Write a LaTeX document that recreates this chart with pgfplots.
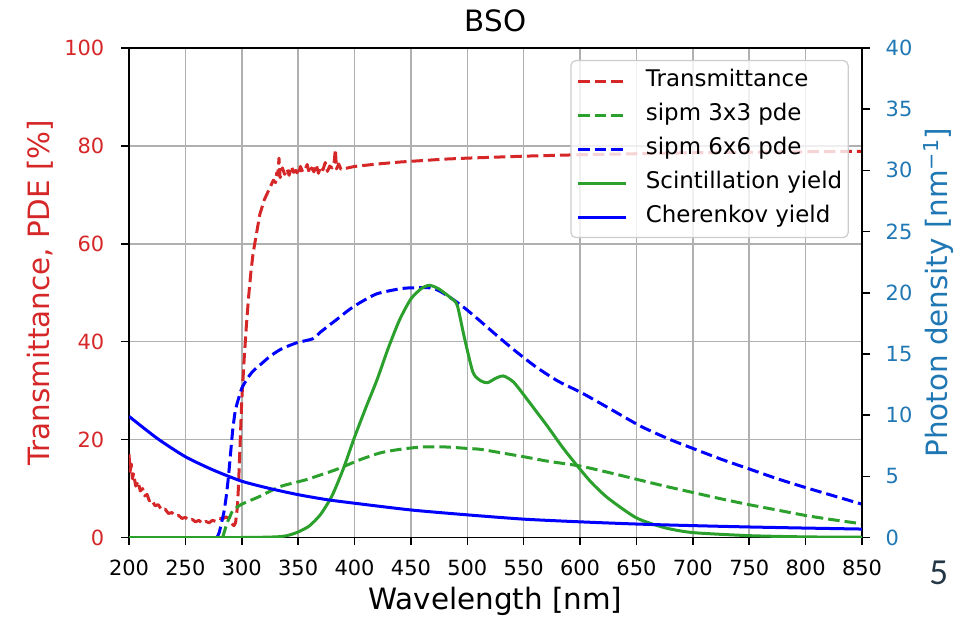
\documentclass[border=0pt]{standalone}
\usepackage{fontspec}
\setmainfont{DejaVu Sans}
\newfontfamily\slidefont{Lato}
\usepackage{pgfplots}
\pgfplotsset{compat=1.18}
\definecolor{tred}{RGB}{214,39,40}
\definecolor{tgreen}{RGB}{44,160,44}
\definecolor{tblue}{RGB}{31,119,180}
\definecolor{pblue}{RGB}{0,0,255}
\definecolor{gridc}{RGB}{176,176,176}
\definecolor{slate}{RGB}{35,55,70}
\newcommand\tickfont{\fontsize{21}{25}\selectfont}
\newcommand\labfont{\fontsize{29.5}{35}\selectfont}
\pgfplotsset{
 base/.style={
  scale only axis, width=733bp, height=489.5bp,
  xmin=200, xmax=850,
  at={(0,0)}, anchor=south west,
  tick align=outside, major tick length=7.5bp,
  every tick/.style={black, line width=1.6bp},
  axis line style={line width=1.6bp, black},
  /pgf/number format/assume math mode=true,
  ticklabel style={font=\tickfont},
 },
 dashedline/.style={line width=3bp, dash pattern=on 11.5bp off 5bp, line join=round},
 solidline/.style={line width=3bp, line join=round},
}
\begin{document}
\begin{tikzpicture}
\useasboundingbox (-129bp,-80.5bp) rectangle (844bp,537.5bp);
\begin{axis}[base, ymin=0, ymax=100,
  xtick={200,250,...,850}, ytick={0,20,...,100},
  xtick pos=bottom, ytick pos=left,
  grid=major, grid style={gridc, line width=1.6bp},
  title=BSO, title style={font=\labfont, at={(0.5,1)}, anchor=base, yshift=10.5bp},
  xlabel={Wavelength [nm]}, xlabel style={font=\labfont, at={([yshift=-71.5bp]axis description cs:0.5,0)}, anchor=base},
  ylabel={Transmittance, PDE [\%]}, ylabel style={font=\labfont, text=tred, at={([xshift=-79bp]axis description cs:0,0.5)}, anchor=base},
  yticklabel style={text=tred, anchor=east, inner sep=0pt, xshift=-17bp},
  xticklabel style={anchor=base, inner sep=0pt, yshift=-30bp},
]
\addplot[tred, dashedline] coordinates {
(200,17) (201,13.5) (202,15) (203,12) (204,13) (206,10.5) (208,11.5) (210,9.5) (212,10) (214,8.5) (216,8.8) (218,7.5) (220,7.8) (223,6.5) (226,6.7) (229,5.6) (232,5.8) (235,4.9) (238,5.1) (241,4.4) (244,4.5) (247,3.9) (250,4.1) (253,3.5) (256,3.7) (259,3.2) (262,3.5) (265,2.9) (268,3.3) (271,3.0) (274,3.5) (277,3.3) (280,3.9) (283,3.8) (286,4.2) (289,3.8) (291,2.9) (293,2.4) (294.5,3) (296,6) (297,10) (298,16) (299,22) (300,28) (302,36) (304,43) (306,49) (308,54) (310,58) (313,62) (316,66) (320,69) (325,71.5) (328,73) (330,72.5) (331,74.5) (332,74) (333,77.5) (334,73.5) (336,75.5) (338,74.2) (340,75.3) (342,74) (344,75.8) (346,74.6) (348,75) (350,74) (352,75.8) (354,74.7) (356,75.1) (358,76.2) (360,74.4) (362,75.5) (364,74.7) (366,76.2) (368,74.4) (370,75.8) (372,75.1) (374,76.6) (376,74.8) (378,75.9) (380,75.5) (382,76.8) (383,79.3) (384,75.3) (386,76.3) (388,75.2) (392,75.4) (400,75.8) (420,76.3) (440,76.7) (460,77.0) (480,77.3) (500,77.5) (550,77.9) (600,78.2) (650,78.4) (700,78.6) (750,78.7) (800,78.8) (850,78.9)
};
\addplot[tgreen, dashedline, smooth, tension=0.4] coordinates {
(283,0) (285,1.5) (287,3) (290,4.5) (292,5.5) (300,6.8) (316,8.4) (334,10.4) (357,11.8) (370,12.8) (384,13.9) (405,15.9) (423,17.3) (440,18.0) (460,18.5) (480,18.5) (500,18.2) (512,18.0) (530,17.3) (550,16.5) (571,15.6) (600,14.6) (625,13.3) (650,11.9) (675,10.5) (700,9.2) (725,7.9) (750,6.7) (775,5.6) (800,4.5) (825,3.6) (850,2.8)
};
\addplot[pblue, dashedline, smooth, tension=0.4] coordinates {
(278,0) (280,1) (282,3) (284,5) (286,8) (288,12) (290,17) (292,22) (294,25.5) (296,27.5) (298,29) (300,30.5) (305,32.5) (310,34) (316,35.2) (325,37) (335,38.5) (349,39.8) (363,40.6) (370,42) (384,44.5) (395,46.5) (405,48) (420,49.8) (440,50.8) (450,51) (467,51) (475,50.4) (485,49) (497,47) (510,44.5) (525,41.5) (541,38.4) (560,35) (580,32) (601,29.6) (625,26.5) (654,22.7) (680,20) (700,18.2) (725,16) (750,14) (775,12) (800,10.2) (825,8.5) (850,6.8)
};
\end{axis}
\begin{axis}[base, ymin=0, ymax=40, ytick={0,5,...,40},
  axis x line=none, axis y line*=right, ytick pos=right,
  yticklabel style={text=tblue, anchor=west, inner sep=0pt, xshift=16bp},
  ylabel={Photon density [nm\textsuperscript{−1}]},
  ylabel style={font=\labfont, text=tblue, at={([xshift=85bp]axis description cs:1,0.5)}, anchor=base},
  legend cell align=left,
  legend image code/.code={\draw[#1] (0bp,0bp) -- (48bp,0bp);},
  legend style={at={(0.982,0.9755)}, anchor=north east, draw=gray!40, line width=1.2bp,
    rounded corners=5bp, fill=white, fill opacity=0.8, text opacity=1,
    font=\fontsize{23}{27}\selectfont, inner xsep=6bp, inner ysep=10bp, row sep=13bp,
    nodes={inner xsep=0bp, inner ysep=0bp, text height=16bp, text depth=5bp},
    /tikz/every odd column/.append style={column sep=18bp}},
]
\addlegendimage{tred, dashedline}
\addlegendentry{Transmittance}
\addlegendimage{tgreen, dashedline}
\addlegendentry{sipm 3x3 pde}
\addlegendimage{pblue, dashedline}
\addlegendentry{sipm 6x6 pde}
\addplot[tgreen, solidline, smooth, tension=0.4] coordinates {
(200,0) (300,0) (330,0.05) (340,0.15) (350,0.45) (360,0.95) (370,1.9) (380,3.4) (390,5.6) (400,8.2) (410,10.6) (420,12.9) (430,15.5) (440,17.8) (450,19.5) (460,20.4) (467,20.6) (475,20.3) (485,19.6) (491,19.0) (497,16.5) (505,13.5) (512,12.8) (518,12.65) (525,13.0) (532,13.2) (541,12.7) (553,11.3) (562,10.2) (571,9.1) (585,7.3) (598,5.8) (610,4.5) (625,3.2) (650,1.6) (675,0.8) (700,0.4) (750,0.15) (800,0.05) (850,0.02)
};
\addlegendentry{Scintillation yield}
\addplot[pblue, solidline, smooth, tension=0.4] coordinates {
(200,9.9) (225,8.1) (250,6.6) (275,5.5) (300,4.6) (325,4.0) (350,3.5) (375,3.1) (400,2.8) (450,2.25) (500,1.85) (550,1.5) (600,1.28) (650,1.1) (700,0.97) (750,0.86) (800,0.77) (850,0.69)
};
\addlegendentry{Cherenkov yield}
\end{axis}
\node[anchor=base, font=\slidefont\fontsize{33}{40}\selectfont, text=slate] at (809.7bp,-46.5bp) {5};
\end{tikzpicture}
\end{document}
